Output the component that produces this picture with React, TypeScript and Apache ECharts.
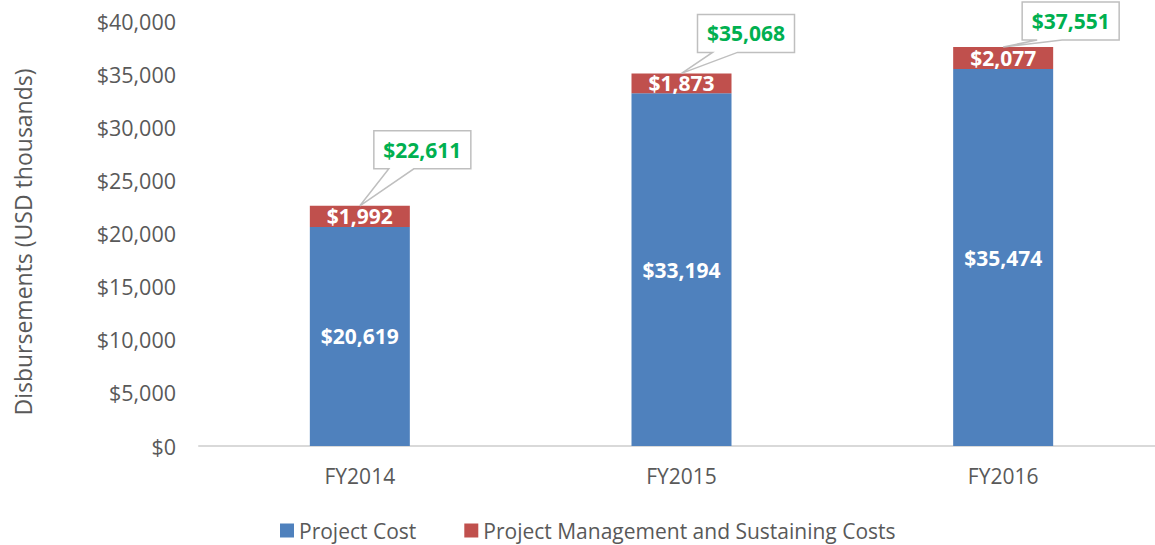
import React, { useEffect, useRef } from "react";
import * as echarts from "echarts";

const categories = ["FY2014", "FY2015", "FY2016"];
const projectCost = [20619, 33194, 35474];
const mgmtCost = [1992, 1873, 2077];
const totals = [22611, 35068, 37551];
const yTicks = [0, 5000, 10000, 15000, 20000, 25000, 30000, 35000, 40000];
const yAxisTitle = "Disbursements (USD thousands)";

// callout layout (pixel offsets of the box relative to the bar top)
const calloutDx = [14, 16, 19];
const calloutDy = [37, 21, 7];

const FONT = "'Open Sans', sans-serif";
const fmt = (v: number) => "$" + v.toLocaleString("en-US");

export default function App() {
  const ref = useRef<HTMLDivElement>(null);
  useEffect(() => {
    if (!ref.current) return;
    const chart = echarts.init(ref.current, undefined, { renderer: "svg" });
    const barLabel = {
      show: true,
      position: "inside",
      color: "#ffffff",
      fontWeight: "bold",
      fontSize: 21,
      fontFamily: FONT,
      formatter: (p: any) => fmt(p.value),
    };
    chart.setOption({
      animation: false,
      textStyle: { fontFamily: FONT },
      grid: { left: 199, right: 11, top: 21, bottom: 99, containLabel: false },
      legend: {
        data: ["Project Cost", "Project Management and Sustaining Costs"],
        left: 275,
        top: 515,
        icon: "rect",
        itemWidth: 14,
        itemHeight: 14,
        itemGap: 48,
        textStyle: { fontSize: 21, color: "#595959", fontFamily: FONT },
      },
      graphic: [
        {
          type: "text",
          x: 23,
          y: 242,
          rotation: Math.PI / 2,
          style: {
            text: yAxisTitle,
            fill: "#595959",
            fontSize: 23,
            fontFamily: FONT,
            align: "center",
            verticalAlign: "middle",
          },
        },
      ],
      xAxis: {
        type: "category",
        data: categories,
        axisTick: { show: false },
        axisLine: { lineStyle: { color: "#D9D9D9", width: 2 } },
        axisLabel: { color: "#595959", fontSize: 21, margin: 19, fontFamily: FONT },
      },
      yAxis: {
        type: "value",
        min: yTicks[0],
        max: yTicks[yTicks.length - 1],
        interval: 5000,
        splitLine: { show: false },
        axisLine: { show: false },
        axisTick: { show: false },
        axisLabel: {
          color: "#595959",
          fontSize: 21.5,
          margin: 23,
          fontFamily: FONT,
          formatter: (v: number) => fmt(v),
        },
      },
      series: [
        {
          name: "Project Cost",
          type: "bar",
          stack: "total",
          barWidth: 100,
          data: projectCost,
          itemStyle: { color: "#4F81BD" },
          label: barLabel,
        },
        {
          name: "Project Management and Sustaining Costs",
          type: "bar",
          stack: "total",
          barWidth: 100,
          data: mgmtCost,
          itemStyle: { color: "#C0504D" },
          label: barLabel,
        },
        {
          name: "Total",
          type: "custom",
          coordinateSystem: "cartesian2d",
          clip: false,
          z: 10,
          data: totals.map((t, i) => [i, t]),
          renderItem: (params: any, api: any) => {
            const i = params.dataIndex;
            const p = api.coord([api.value(0), api.value(1)]);
            const w = 97;
            const h = 38;
            const L = p[0] + calloutDx[i];
            const B = p[1] - calloutDy[i];
            const T = B - h;
            const R = L + w;
            return {
              type: "group",
              children: [
                {
                  type: "polygon",
                  shape: {
                    points: [
                      [L, T],
                      [R, T],
                      [R, B],
                      [L + 40, B],
                      [p[0], p[1]],
                      [L + 15, B],
                      [L, B],
                    ],
                  },
                  style: { fill: "#ffffff", stroke: "#BFBFBF", lineWidth: 1.5 },
                },
                {
                  type: "text",
                  x: L + w / 2,
                  y: T + h / 2,
                  style: {
                    text: fmt(api.value(1)),
                    fill: "#00B050",
                    fontWeight: "bold",
                    fontSize: 21,
                    fontFamily: FONT,
                    align: "center",
                    verticalAlign: "middle",
                  },
                },
              ],
            };
          },
        },
      ],
    });
    return () => chart.dispose();
  }, []);
  return (
    <div
      ref={ref}
      style={{ position: "fixed", left: 0, top: 0, width: 1175, height: 545, background: "#fff" }}
    />
  );
}
